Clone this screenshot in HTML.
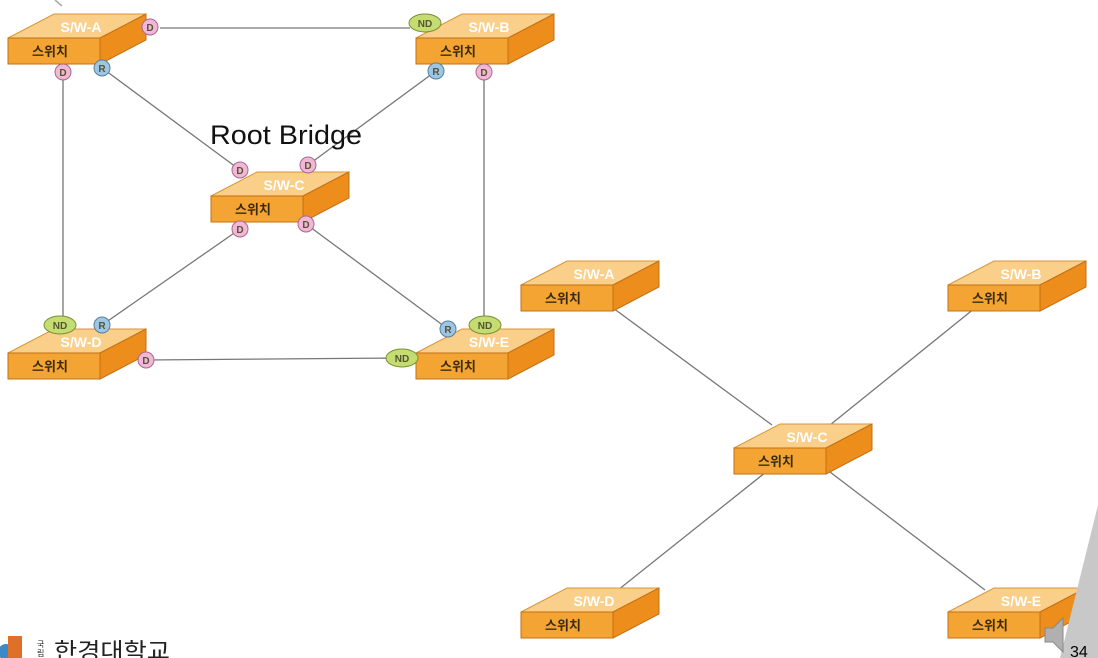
<!DOCTYPE html>
<html><head><meta charset="utf-8"><style>
html,body{margin:0;padding:0;background:#fff;}
svg{display:block;}
</style></head><body>
<svg width="1098" height="658" viewBox="0 0 1098 658" xmlns="http://www.w3.org/2000/svg">
<defs>
<g id="sw">
  <polygon points="0,0 46,-24 138,-24 92,0" fill="#f9cf8a" stroke="#d9963a" stroke-width="1"/>
  <polygon points="92,0 138,-24 138,2 92,26" fill="#ec8d1c" stroke="#c47014" stroke-width="1"/>
  <rect x="0" y="0" width="92" height="26" fill="#f3a432" stroke="#c47014" stroke-width="1"/>
</g>
</defs>
<g stroke="#777" stroke-width="1.3" fill="none">
  <line x1="160" y1="28" x2="410" y2="28"/>
  <line x1="63" y1="72" x2="63" y2="318"/>
  <line x1="484" y1="72" x2="484" y2="318"/>
  <line x1="102" y1="68" x2="240" y2="170"/>
  <line x1="436" y1="71" x2="308" y2="165"/>
  <line x1="240" y1="229" x2="102" y2="325"/>
  <line x1="306" y1="224" x2="448" y2="329"/>
  <line x1="146" y1="360" x2="402" y2="358"/>
  <line x1="613" y1="308" x2="772" y2="425"/>
  <line x1="975" y1="308" x2="830" y2="425"/>
  <line x1="766" y1="472" x2="618" y2="590"/>
  <line x1="830" y1="472" x2="985" y2="590"/>
</g>
<g>
<use href="#sw" x="8" y="38"/><use href="#sw" x="416" y="38"/><use href="#sw" x="211" y="196"/>
<use href="#sw" x="8" y="353"/><use href="#sw" x="416" y="353"/>
<use href="#sw" x="521" y="285"/><use href="#sw" x="948" y="285"/><use href="#sw" x="734" y="448"/>
<use href="#sw" x="521" y="612"/><use href="#sw" x="948" y="612"/>
</g>
<g font-family="Liberation Sans, sans-serif" font-size="14" fill="#fff" font-weight="bold" text-anchor="middle">
<text x="81" y="32">S/W-A</text><text x="489" y="32">S/W-B</text><text x="284" y="190">S/W-C</text>
<text x="81" y="347">S/W-D</text><text x="489" y="347">S/W-E</text>
<text x="594" y="279">S/W-A</text><text x="1021" y="279">S/W-B</text><text x="807" y="442">S/W-C</text>
<text x="594" y="606">S/W-D</text><text x="1021" y="606">S/W-E</text>
</g>
<g font-family="Liberation Sans, Noto Sans CJK KR, sans-serif" font-size="13" fill="#3a2a10" font-weight="bold" text-anchor="middle">
<text x="50" y="56">스위치</text><text x="458" y="56">스위치</text><text x="253" y="214">스위치</text>
<text x="50" y="371">스위치</text><text x="458" y="371">스위치</text>
<text x="563" y="303">스위치</text><text x="990" y="303">스위치</text><text x="776" y="466">스위치</text>
<text x="563" y="630">스위치</text><text x="990" y="630">스위치</text>
</g>
<g font-family="Liberation Sans, sans-serif" font-size="10" font-weight="bold" text-anchor="middle" fill="#553">
  <g fill="#f2b6d6" stroke="#a66a8a"><circle cx="150" cy="27" r="8"/><circle cx="63" cy="72" r="8"/><circle cx="484" cy="72" r="8"/>
  <circle cx="240" cy="170" r="8"/><circle cx="308" cy="165" r="8"/><circle cx="240" cy="229" r="8"/><circle cx="306" cy="224" r="8"/><circle cx="146" cy="360" r="8"/></g>
  <g fill="#9cc6e4" stroke="#5a7f9a"><circle cx="102" cy="68" r="8"/><circle cx="436" cy="71" r="8"/><circle cx="102" cy="325" r="8"/><circle cx="448" cy="329" r="8"/></g>
  <g fill="#c4dc72" stroke="#7a9030"><ellipse cx="425" cy="23" rx="16" ry="9"/><ellipse cx="60" cy="325" rx="16" ry="9"/><ellipse cx="485" cy="325" rx="16" ry="9"/><ellipse cx="402" cy="358" rx="16" ry="9"/></g>
  <text x="150" y="31">D</text><text x="63" y="76">D</text><text x="484" y="76">D</text><text x="240" y="174">D</text><text x="308" y="169">D</text><text x="240" y="233">D</text><text x="306" y="228">D</text><text x="146" y="364">D</text>
  <text x="102" y="72">R</text><text x="436" y="75">R</text><text x="102" y="329">R</text><text x="448" y="333">R</text>
  <text x="425" y="27">ND</text><text x="60" y="329">ND</text><text x="485" y="329">ND</text><text x="402" y="362">ND</text>
</g>
<text x="210" y="144" font-family="Liberation Sans, sans-serif" font-size="27" fill="#111" textLength="152" lengthAdjust="spacingAndGlyphs">Root Bridge</text>
<line x1="55" y1="0" x2="62" y2="6" stroke="#aaa" stroke-width="1.5"/>
<polygon points="1098,505 1098,658 1060,658" fill="#c8c8c8"/>
<polygon points="1045,628 1053,628 1063,618 1063,652 1053,642 1045,642" fill="#b0b0b0" stroke="#888"/>
<text x="1070" y="657" font-family="Liberation Sans, sans-serif" font-size="16" fill="#000">34</text>
<circle cx="6" cy="652" r="8" fill="#3a8ac8"/><rect x="8" y="636" width="14" height="22" fill="#e07028"/>
<text x="37" y="647" font-family="Liberation Sans, Noto Sans CJK KR, sans-serif" font-size="8" fill="#222">국</text>
<text x="37" y="656" font-family="Liberation Sans, Noto Sans CJK KR, sans-serif" font-size="8" fill="#222">립</text>
<text x="54" y="659" font-family="Liberation Sans, Noto Sans CJK KR, sans-serif" font-size="23" fill="#222" textLength="116" lengthAdjust="spacingAndGlyphs">한경대학교</text>
</svg>
</body></html>
